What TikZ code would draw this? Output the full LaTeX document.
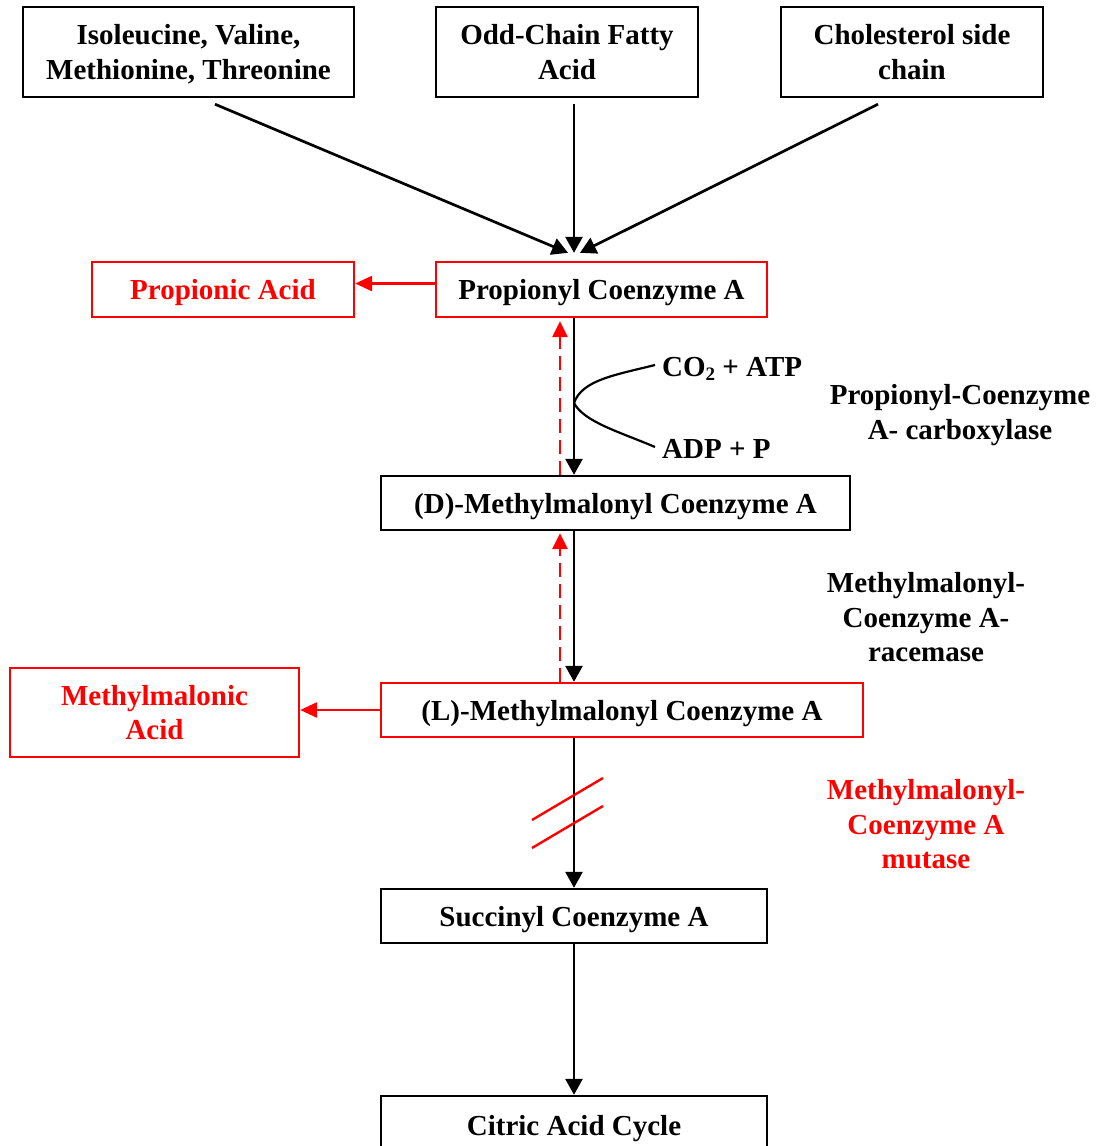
\documentclass[tikz,border=0pt]{standalone}
\usepackage{fontspec}
\setmainfont{Liberation Serif}
\usetikzlibrary{arrows.meta}
\definecolor{rd}{RGB}{255,0,0}
\tikzset{
  every node/.style={font=\fontsize{29}{34.5}\selectfont\bfseries, align=center, inner sep=0pt, text depth=0pt},
  box/.style={draw=black, line width=2.4pt, minimum width=#1, fill=white},
  rbox/.style={draw=rd, line width=2.4pt, minimum width=#1, fill=white},
  arr/.style={line width=2.7pt, -{Triangle[width=17pt,length=16pt]}},
  redarr/.style={draw=rd, line width=2.9pt, -{Triangle[width=15pt,length=17pt]}},
  dasharr/.style={draw=rd, line width=2.7pt, dash pattern=on 14pt off 7pt, -{Triangle[width=15pt,length=16pt]}},
  lbl/.style={},
  rlbl/.style={text=rd},
}
\begin{document}
\begin{tikzpicture}[x=1pt,y=-1pt]
\useasboundingbox (0,0) rectangle (1104,1146);
% source boxes
\node[box=331pt, minimum height=90pt] (src1) at (188.5,52) {Isoleucine, Valine,\\Methionine, Threonine};
\node[box=262pt, minimum height=90pt] (src2) at (567,52) {Odd-Chain Fatty\\Acid};
\node[box=262pt, minimum height=90pt] (src3) at (912,52) {Cholesterol side\\chain};
% main chain
\node[rbox=331pt, minimum height=55pt] (prop) at (601.5,289.5) {Propionyl Coenzyme A};
\node[rbox=262pt, minimum height=55pt, text=rd] (propacid) at (223,289.5) {Propionic Acid};
\node[box=469pt, minimum height=54pt] (dmm) at (615.5,503) {(D)-Methylmalonyl Coenzyme A};
\node[rbox=482pt, minimum height=54pt] (lmm) at (622,710) {(L)-Methylmalonyl Coenzyme A};
\node[rbox=289pt, minimum height=89pt, text=rd] (mma) at (154.5,712.5) {Methylmalonic\\Acid};
\node[box=386pt, minimum height=54pt] (succ) at (574,916) {Succinyl Coenzyme A};
\node[box=386pt, minimum height=58pt] (citric) at (574,1125) {Citric Acid Cycle};
% side texts
\node[anchor=west] (co2) at (662,367) {CO\raisebox{-0.3ex}{\fontsize{19}{19}\selectfont 2} + ATP};
\node[anchor=west] (adp) at (662,449) {ADP + P};
\node[lbl] (enz1) at (960,412) {Propionyl-Coenzyme\\A- carboxylase};
\node[lbl] (enz2) at (926,617) {Methylmalonyl-\\Coenzyme A-\\racemase};
\node[rlbl] (enz3) at (926,824) {Methylmalonyl-\\Coenzyme A\\mutase};
% coordinates
\coordinate (fx) at (574,0);
\coordinate (dx) at (560,0);
\coordinate (fork) at (574,403);
% converging arrows
\draw[arr] ([shift={(26.5,6)}]src1.south) -- ([shift={(-33.5,-8)}]prop.north);
\draw[arr] ([shift={(7,6)}]src2.south) -- ([shift={(-27.5,-8)}]prop.north);
\draw[arr] ([shift={(-34,6)}]src3.south) -- ([shift={(-21.5,-8)}]prop.north);
% red side arrows
\draw[redarr] ([yshift=6pt]prop.west) -- ([yshift=6pt]propacid.east);
\draw[redarr] (lmm.west) -- (lmm.west -| mma.east);
% main downward arrows
\draw[arr] (prop.south -| fx) -- (dmm.north -| fx);
\draw[arr] (dmm.south -| fx) -- (lmm.north -| fx);
\draw[arr] (lmm.south -| fx) -- (succ.north -| fx);
\draw[arr] (succ.south -| fx) -- (citric.north -| fx);
% dashed reverse arrows
\draw[dasharr] (dmm.north -| dx) -- ([yshift=-3pt]prop.south -| dx);
\draw[dasharr] (lmm.north -| dx) -- ([yshift=-2pt]dmm.south -| dx);
% cofactor curves
\draw[line width=2.2pt] (fork) .. controls (582,380) and (615,375) .. (655,365);
\draw[line width=2.2pt] (fork) .. controls (584,422) and (620,432) .. (655,447);
% blocked step marks
\draw[rd, line width=2.4pt] (532,820) -- (603,778);
\draw[rd, line width=2.4pt] (532,848) -- (603,806);
\end{tikzpicture}
\end{document}
